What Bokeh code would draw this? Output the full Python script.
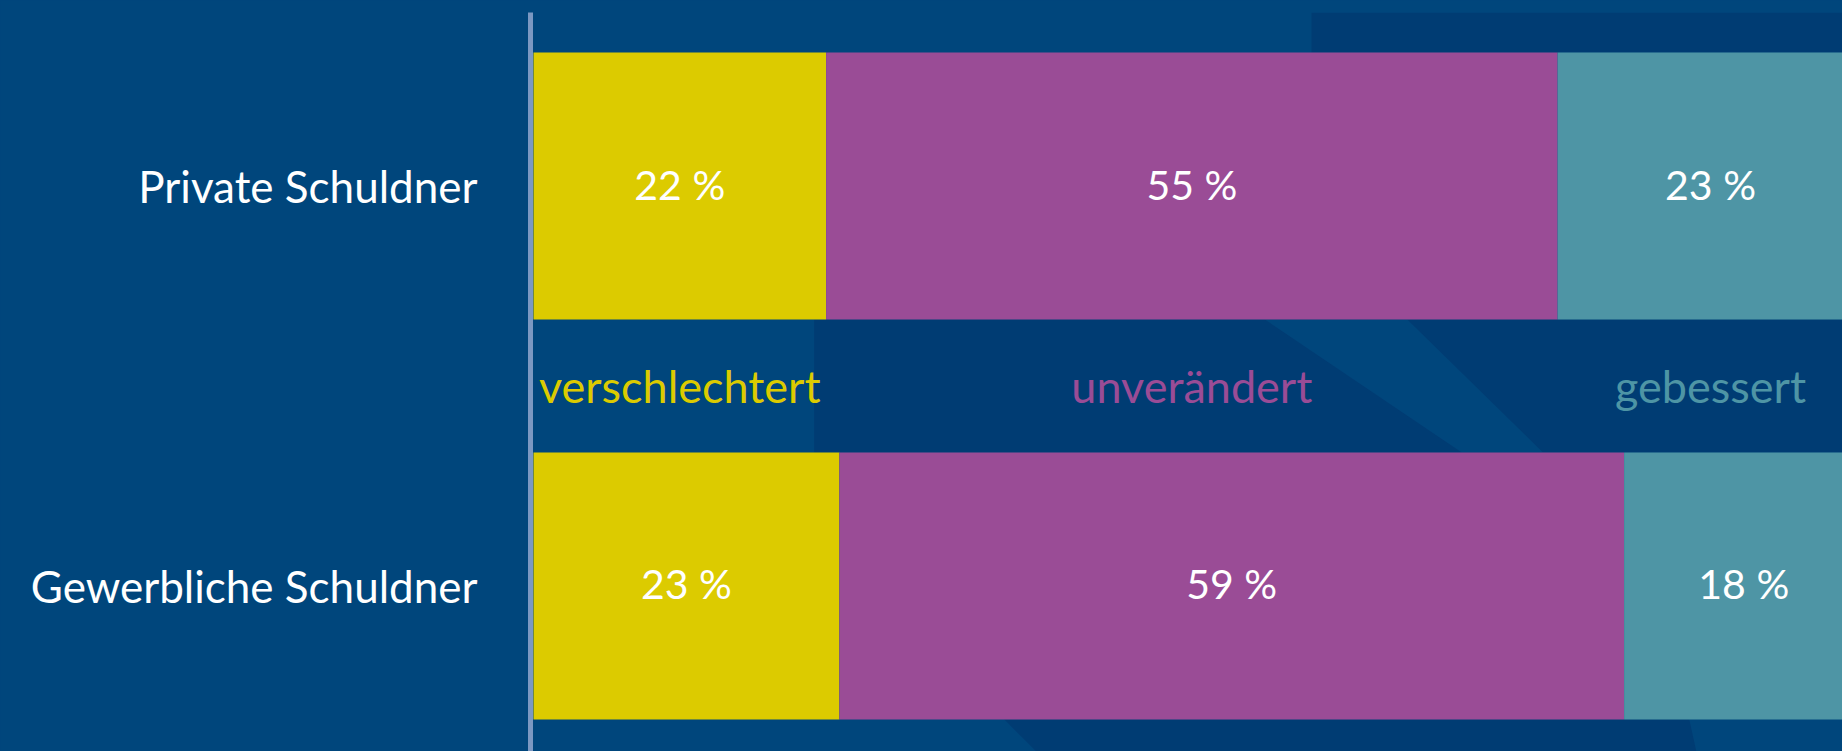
from bokeh.plotting import figure
from bokeh.models import ColumnDataSource, Range1d, FixedTicker, BoxAnnotation, PolyAnnotation
from bokeh.core.properties import value
from bokeh.embed import file_html
from bokeh.resources import INLINE

# ---- data ----
categories = ["Private Schuldner", "Gewerbliche Schuldner"]
series = ["verschlechtert", "unverändert", "gebessert"]
verschlechtert = [22, 23]
unveraendert = [55, 59]
gebessert = [23, 18]
colors = ["#dccb00", "#9a4c96", "#4e95a5"]

BG = "#00467c"
BG_DARK = "#003c73"
FONT = "Lato"

# category positions: first category at the top
n = len(categories)
ypos = [n - 1 - i for i in range(n)]

src = ColumnDataSource(dict(
    y=ypos,
    verschlechtert=verschlechtert,
    unveraendert=unveraendert,
    gebessert=gebessert,
))

px_per_unit = 13.3
p = figure(
    width=1842, height=751,
    x_range=Range1d(-3 / px_per_unit, 1309 / px_per_unit),
    y_range=Range1d(-0.414, n - 1 + 0.434),
    output_backend="svg", toolbar_location=None,
    x_axis_location=None,
    min_border_left=530, min_border_right=0, min_border_top=12, min_border_bottom=0,
    background_fill_color=BG, border_fill_color=BG, outline_line_color=None,
)
p.grid.visible = False

# decorative darker background shapes
p.add_layout(BoxAnnotation(left=58.5, bottom=1.334, fill_color=BG_DARK, fill_alpha=1, line_color=None, level="underlay"))
p.add_layout(BoxAnnotation(left=21.1, bottom=0.334, top=0.666, fill_color=BG_DARK, fill_alpha=1, line_color=None, level="underlay"))
p.add_layout(PolyAnnotation(xs=[55.0, 65.7, 75.9, 69.8], ys=[0.666, 0.666, 0.334, 0.334],
                            fill_color=BG, fill_alpha=1, line_color=None, level="underlay"))
p.add_layout(PolyAnnotation(xs=[35.4, 86.9, 88.0, 40.4], ys=[-0.334, -0.334, -0.5, -0.5],
                            fill_color=BG_DARK, fill_alpha=1, line_color=None, level="underlay"))

stack_cols = ["verschlechtert", "unveraendert", "gebessert"]
p.hbar_stack(stack_cols, y="y", height=0.6675, color=colors, line_color=None, source=src)

# value labels
lx, ly, lt = [], [], []
for i in range(n):
    left = 0
    for col in stack_cols:
        v = src.data[col][i]
        lx.append(left + v / 2)
        ly.append(ypos[i])
        lt.append(f"{v} %")
        left += v
p.text(x=lx, y=ly, text=lt, text_color="white", text_font=value(FONT),
       text_font_size="41px", text_align="center", text_baseline="middle", y_offset=-2)

# series labels between the bars, centred on the top bar's segments
top_vals = [src.data[c][0] for c in stack_cols]
sx, left = [], 0
for v in top_vals:
    sx.append(left + v / 2)
    left += v
sy = [(ypos[0] + ypos[1]) / 2] * len(series)
p.text(x=sx, y=sy, text=series, text_color=colors, text_font=value(FONT),
       text_font_size="45px", text_align="center", text_baseline="middle")

# y axis
ax = p.yaxis[0]
ax.ticker = FixedTicker(ticks=ypos)
ax.major_label_overrides = {ypos[i]: categories[i] for i in range(n)}
ax.axis_line_width = 5
ax.axis_line_color = "#7b98c2"
ax.major_tick_line_color = None
ax.minor_tick_line_color = None
ax.major_tick_out = 0
ax.major_tick_in = 0
ax.major_label_standoff = 53
ax.major_label_text_font = FONT
ax.major_label_text_font_size = "44px"
ax.major_label_text_color = "white"

template = """
{% block postamble %}
<style>html, body { background: #00467c; margin: 0; padding: 0; }</style>
{% endblock %}
"""
open("out.html", "w").write(file_html(p, INLINE, template=template))
